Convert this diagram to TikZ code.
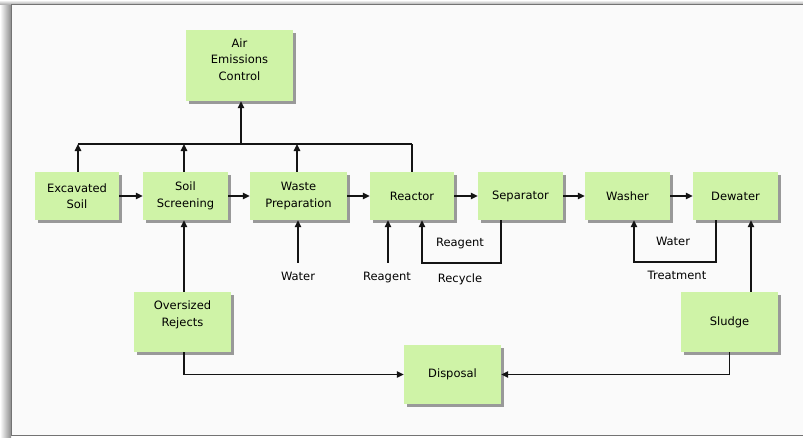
\documentclass[tikz,border=0pt]{standalone}
\usepackage{fontspec}
\setmainfont{DejaVu Sans}
\usetikzlibrary{arrows.meta,shadows}
\definecolor{boxgreen}{RGB}{207,243,167}
\definecolor{bgcol}{RGB}{250,250,250}
\definecolor{linecol}{RGB}{20,20,20}
\begin{document}
\begin{tikzpicture}[x=1pt,y=-1pt,
  box/.style={rectangle, fill=boxgreen, inner sep=0pt, align=center,
    font=\fontsize{11.5}{16.5}\selectfont,
    drop shadow={shadow xshift=2.5pt, shadow yshift=-2.5pt, fill=black!40, opacity=1}},
  lab/.style={inner sep=0pt, text height=9pt, text depth=3pt, font=\fontsize{11.5}{16.5}\selectfont},
  arr/.style={draw=linecol, line width=1.2pt, -{Triangle[length=7pt,width=6.5pt]}},
  ln/.style={draw=linecol, line width=1.2pt},
  fromlab/.style={shorten <=8pt}]
\useasboundingbox (0,0) rectangle (803,437);
% background and frame
\fill[white] (0,0) rectangle (803,437);
\shade[left color=white, right color=black!45] (0,4) rectangle (11,437);
\shade[top color=white, bottom color=black!30] (0,0) rectangle (803,4);
\fill[bgcol] (11,4) rectangle (803,435);
\draw[black!55, line width=1.5pt] (803,4.5) -- (11.5,4.5) -- (11.5,435.5) -- (803,435.5);
% nodes
\node[box, minimum width=107pt, minimum height=71pt] (air) at (239.5,65.5) {Air\\Emissions\\Control\\[-4pt]~};
\node[box, minimum width=84pt, minimum height=48pt] (exc) at (77,196) {Excavated\\Soil};
\node[box, minimum width=85pt, minimum height=48pt] (scr) at (185.5,196) {Soil\\Screening};
\node[box, minimum width=97pt, minimum height=48pt] (wp) at (298.5,196) {Waste\\Preparation};
\node[box, minimum width=84pt, minimum height=48pt] (rea) at (412,196) {Reactor};
\node[box, minimum width=85pt, minimum height=48pt] (sep) at (520.5,196) {Separator};
\node[box, minimum width=85pt, minimum height=48pt] (was) at (627.5,196) {Washer};
\node[box, minimum width=85pt, minimum height=48pt] (dew) at (735.5,196) {Dewater};
\node[box, minimum width=97pt, minimum height=60pt] (ovr) at (182.5,322) {Oversized\\Rejects\\~};
\node[box, minimum width=97pt, minimum height=60pt] (sld) at (729.5,322) {Sludge};
\node[box, minimum width=97pt, minimum height=59pt] (dis) at (452.5,374.5) {Disposal};
% labels
\node[lab] (wat1) at (298,277) {Water};
\node[lab] (rg1) at (387,277) {Reagent};
\node[lab] (rg2) at (460,243) {Reagent};
\node[lab] (rcy) at (460,279) {Recycle};
\node[lab] (wat2) at (673,242) {Water};
\node[lab] (trt) at (677,276) {Treatment};
\coordinate (bus) at (0,144);
\coordinate (rloop) at (0,263);
\coordinate (wloop) at (0,262);
% main flow
\draw[arr] (exc) -- (scr);
\draw[arr] (scr) -- (wp);
\draw[arr] (wp) -- (rea);
\draw[arr] (rea) -- (sep);
\draw[arr] (sep) -- (was);
\draw[arr] (was) -- (dew);
% bus to air emissions
\draw[ln] ([xshift=1pt]exc.north |- bus) -- (rea.north |- bus);
\draw[arr] ([xshift=1pt]exc.north) -- ([xshift=1pt]exc.north |- bus);
\draw[arr] ([xshift=-1.5pt]scr.north) -- ([xshift=-1.5pt]scr.north |- bus);
\draw[arr] ([xshift=-1.5pt]wp.north) -- ([xshift=-1.5pt]wp.north |- bus);
\draw[ln] (rea.north) -- (rea.north |- bus);
\draw[arr] ([xshift=1.5pt]air.south |- bus) -- ([xshift=1.5pt]air.south);
% inputs
\draw[arr] ([xshift=1.5pt]ovr.north) -- ([xshift=1.5pt]ovr.north |- scr.south);
\draw[arr, fromlab] (wat1.north) -- (wat1.north |- wp.south);
\draw[arr, fromlab] ([xshift=1pt]rg1.north) -- ([xshift=1pt]rg1.north |- rea.south);
% recycle loops
\draw[arr] ([xshift=-19.5pt]sep.south) -- ([xshift=-19.5pt]sep.south |- rloop) -| ([xshift=10pt]rea.south);
\draw[arr] ([xshift=-19.5pt]dew.south) -- ([xshift=-19.5pt]dew.south |- wloop) -| ([xshift=6.5pt]was.south);
% sludge
\draw[arr] ([xshift=21.5pt]sld.north) -- ([xshift=21.5pt]sld.north |- dew.south);
\draw[arr] (sld.south) |- (dis.east);
\draw[arr] ([xshift=1.5pt]ovr.south) |- (dis.west);
\end{tikzpicture}
\end{document}
